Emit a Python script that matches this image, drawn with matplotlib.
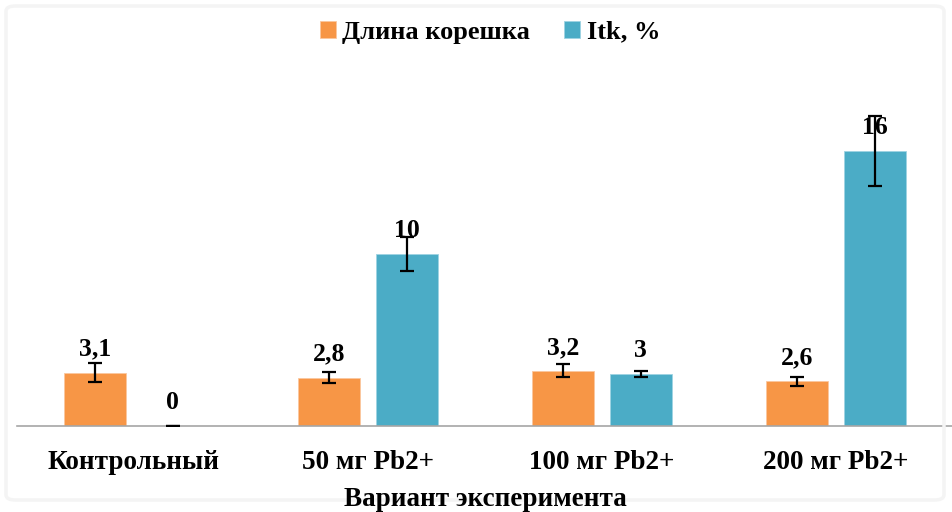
import numpy as np
import matplotlib
matplotlib.use("Agg")
import matplotlib.pyplot as plt
from matplotlib.patches import FancyBboxPatch

plt.rcParams['font.family'] = ['Liberation Serif', 'DejaVu Serif']
plt.rcParams['font.weight'] = 'bold'

categories = ["Контрольный", "50 мг Pb2+", "100 мг Pb2+", "200 мг Pb2+"]
root_len = [3.1, 2.8, 3.2, 2.6]
root_err = [0.55, 0.32, 0.38, 0.26]
itk = [0, 10, 3, 16]
itk_err = [0, 0.96, 0.17, 2.03]
root_labels = ["3,1", "2,8", "3,2", "2,6"]
itk_labels = ["0", "10", "3", "16"]

orange = "#F79646"
teal = "#4BACC6"

fig = plt.figure(figsize=(9.53, 5.12), dpi=100)
ax = fig.add_axes([17 / 953, 86 / 512, 936 / 953, 344 / 512])

# faint chart border like the office export
border = FancyBboxPatch((6 / 953, 12 / 512), 938 / 953, 494 / 512,
                        boxstyle="round,pad=0,rounding_size=0.01",
                        transform=fig.transFigure, fill=False,
                        edgecolor="#F4F4F4", linewidth=2.5, zorder=0)
fig.patches.append(border)

x = np.arange(len(categories))
w = 0.265
off = 0.165

b1 = ax.bar(x - off, root_len, w, color=orange, edgecolor="#FBC79F", linewidth=0.6,
            label="Длина корешка", zorder=2)
b2 = ax.bar(x + off, itk, w, color=teal, edgecolor="#9FD3E2", linewidth=0.6,
            label="Itk, %", zorder=2)
ax.errorbar(x - off, root_len, yerr=root_err, fmt="none", ecolor="black",
            elinewidth=1.6, capsize=5, capthick=1.6, zorder=3)
ax.errorbar(x + off, itk, yerr=itk_err, fmt="none", ecolor="black",
            elinewidth=1.6, capsize=5, capthick=1.6, zorder=3)

for xi, v, s in zip(x - off, root_len, root_labels):
    ax.annotate(s, (xi, v), xytext=(0, 17), textcoords="offset points",
                ha="center", va="center", fontsize=18.5, fontweight="bold", zorder=4)
for xi, v, s in zip(x + off, itk, itk_labels):
    ax.annotate(s, (xi, v), xytext=(0, 17), textcoords="offset points",
                ha="center", va="center", fontsize=18.5, fontweight="bold", zorder=4)

ax.set_xlim(-0.5, 3.5)
ax.set_ylim(0, 20)
ax.set_xticks(x)
ax.set_xticklabels(categories, fontsize=19.5, fontweight="bold")
ax.tick_params(axis="x", length=0, pad=17)
ax.set_yticks([])
for side in ["top", "right", "left"]:
    ax.spines[side].set_visible(False)
ax.spines["bottom"].set_color("#A6A6A6")
ax.spines["bottom"].set_linewidth(1.2)

fig.text(485 / 953, 1 - 499 / 512, "Вариант эксперимента", ha="center", va="center",
         fontsize=19.5, fontweight="bold")

fig.legend(handles=[b1, b2], loc="center", bbox_to_anchor=(490 / 953, 1 - 32 / 512),
           ncol=2, frameon=False, handlelength=0.6, handleheight=0.6,
           handletextpad=0.25, columnspacing=1.3, prop={"weight": "bold", "size": 19})

fig.savefig("out.png", dpi=100)
